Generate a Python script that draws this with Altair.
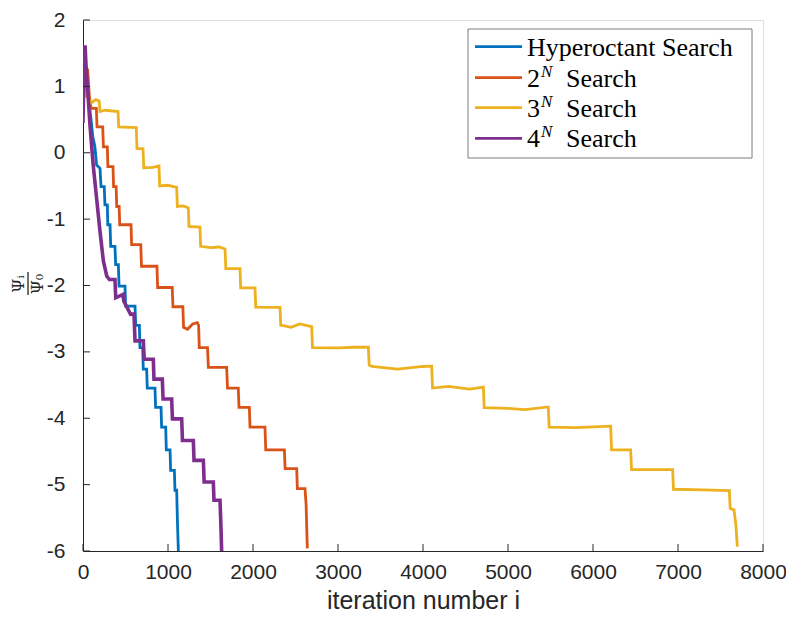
import altair as alt
import pandas as pd

# ---------------- data ----------------
hyper_x = [0, 20, 50, 90, 115, 140, 160, 200, 212, 250, 258, 286, 292, 318, 326, 376, 384, 416, 424, 494, 502, 612, 620, 663, 670, 702, 709, 749, 756, 847, 854, 918, 925, 973, 980, 1024, 1031, 1075, 1082, 1102, 1112, 1122]
hyper_y = [0.9, 1.35, 1.0, 0.55, 0.25, 0.09, -0.185, -0.235, -0.51, -0.51, -0.785, -0.785, -1.085, -1.085, -1.41, -1.41, -1.685, -1.685, -2.01, -2.01, -2.31, -2.31, -2.6, -2.6, -2.935, -2.935, -3.26, -3.26, -3.545, -3.545, -3.835, -3.835, -4.135, -4.135, -4.475, -4.475, -4.785, -4.785, -5.085, -5.085, -5.6, -6.0]

s2_x = [0, 25, 55, 75, 95, 157, 165, 232, 240, 286, 293, 353, 360, 390, 397, 425, 432, 565, 572, 680, 688, 870, 878, 1050, 1058, 1175, 1183, 1230, 1290, 1345, 1360, 1368, 1465, 1475, 1690, 1700, 1827, 1835, 1957, 1965, 2141, 2150, 2369, 2378, 2514, 2522, 2612, 2625, 2632, 2639]
s2_y = [0.75, 1.3, 1.25, 0.85, 0.67, 0.67, 0.39, 0.39, 0.09, 0.09, -0.21, -0.21, -0.51, -0.51, -0.81, -0.81, -1.085, -1.085, -1.385, -1.385, -1.71, -1.71, -2.03, -2.03, -2.32, -2.32, -2.63, -2.66, -2.58, -2.56, -2.6, -2.935, -2.935, -3.235, -3.235, -3.545, -3.545, -3.835, -3.835, -4.135, -4.135, -4.475, -4.475, -4.76, -4.76, -5.06, -5.06, -5.3, -5.65, -5.96]

s3_x = [0, 40, 98, 150, 190, 200, 260, 412, 420, 627, 635, 706, 715, 820, 894, 902, 1000, 1102, 1110, 1180, 1239, 1247, 1376, 1384, 1500, 1600, 1671, 1680, 1847, 1855, 2024, 2032, 2200, 2318, 2326, 2450, 2550, 2690, 2700, 3000, 3200, 3357, 3367, 3400, 3700, 4000, 4102, 4112, 4300, 4550, 4710, 4720, 5000, 5200, 5474, 5484, 5800, 6000, 6208, 6218, 6443, 6453, 6937, 6947, 7300, 7604, 7614, 7659, 7680, 7698]
s3_y = [1.1, 0.85, 0.75, 0.8, 0.78, 0.62, 0.64, 0.62, 0.39, 0.38, 0.065, 0.06, -0.225, -0.22, -0.2, -0.5, -0.49, -0.52, -0.81, -0.8, -0.83, -1.11, -1.12, -1.41, -1.43, -1.42, -1.45, -1.745, -1.745, -2.035, -2.035, -2.325, -2.33, -2.33, -2.595, -2.63, -2.58, -2.62, -2.935, -2.94, -2.93, -2.93, -3.2, -3.22, -3.26, -3.22, -3.215, -3.545, -3.52, -3.56, -3.53, -3.84, -3.85, -3.87, -3.83, -4.135, -4.14, -4.13, -4.12, -4.475, -4.475, -4.775, -4.775, -5.07, -5.08, -5.09, -5.36, -5.38, -5.6, -5.935]

s4_x = [0, 12, 24, 40, 62, 82, 120, 160, 200, 240, 280, 310, 376, 385, 470, 480, 560, 600, 612, 710, 720, 827, 835, 933, 942, 1043, 1052, 1161, 1170, 1298, 1306, 1416, 1425, 1533, 1541, 1612, 1622, 1631]
s4_y = [0.45, 1.3, 1.62, 1.2, 0.815, 0.415, -0.185, -0.685, -1.185, -1.635, -1.86, -1.91, -1.91, -2.185, -2.135, -2.235, -2.435, -2.43, -2.835, -2.835, -3.11, -3.11, -3.41, -3.41, -3.71, -3.71, -4.01, -4.01, -4.335, -4.335, -4.635, -4.635, -4.96, -4.96, -5.235, -5.235, -5.6, -6.0]

series_names = ["Hyperoctant Search", "2", "3", "4"]
series_colors = ["#0072BD", "#D95319", "#EDB120", "#7E2F8E"]
series_widths = [2.8, 2.8, 2.8, 3.6]
series_data = [(hyper_x, hyper_y), (s2_x, s2_y), (s3_x, s3_y), (s4_x, s4_y)]

x_ticks = [0, 1000, 2000, 3000, 4000, 5000, 6000, 7000, 8000]
y_ticks = [-6, -5, -4, -3, -2, -1, 0, 1, 2]

W, H = 680, 531
AXC = "#262626"

xscale = alt.Scale(domain=[0, 8000], nice=False, zero=False)
yscale = alt.Scale(domain=[-6, 2], nice=False, zero=False)

layers = []
for (xs, ys), col, sw in zip(series_data, series_colors, series_widths):
    df = pd.DataFrame({"x": xs, "y": ys, "i": list(range(len(xs)))})
    layers.append(
        alt.Chart(df).mark_line(color=col, strokeWidth=sw, clip=True, strokeJoin="miter").encode(
            x=alt.X("x:Q", scale=xscale,
                    axis=alt.Axis(values=x_ticks, labelExpr="toString(datum.value)", ticks=False,
                                  grid=False, title="iteration number i",
                                  labelFontSize=21, labelFont="Liberation Sans", labelColor=AXC,
                                  labelPadding=10, titleFontSize=25, titleFont="Liberation Sans",
                                  titleFontWeight="normal", titleColor=AXC, titlePadding=6,
                                  domainColor=AXC, domainWidth=1, labelFlush=False)),
            y=alt.Y("y:Q", scale=yscale,
                    axis=alt.Axis(values=y_ticks, labelExpr="toString(datum.value)", ticks=False,
                                  grid=False, title=None,
                                  labelFontSize=21, labelFont="Liberation Sans", labelColor=AXC,
                                  labelPadding=18, domainColor=AXC, domainWidth=1, labelFlush=False)),
            order="i:Q",
        )
    )

# inward tick marks (MATLAB style)
xt = pd.DataFrame({"t": x_ticks})
yt = pd.DataFrame({"t": y_ticks})
layers.append(alt.Chart(xt).mark_rule(color=AXC, strokeWidth=1).encode(
    x=alt.X("t:Q", scale=xscale), y=alt.value(H), y2=alt.value(H - 7)))
layers.append(alt.Chart(yt).mark_rule(color=AXC, strokeWidth=1).encode(
    y=alt.Y("t:Q", scale=yscale), x=alt.value(0), x2=alt.value(7)))

# y-axis title as a rotated fraction  Ψi / Ψ0
one = pd.DataFrame({"a": [0]})
layers.append(alt.Chart(one).mark_text(text="Ψᵢ", angle=270, font="DejaVu Serif", fontSize=16,
                                       color=AXC, align="center", baseline="middle").encode(
    x=alt.value(-64), y=alt.value(264)))
layers.append(alt.Chart(one).mark_rule(color=AXC, strokeWidth=1.3).encode(
    x=alt.value(-55), y=alt.value(252), y2=alt.value(275)))
layers.append(alt.Chart(one).mark_text(text="Ψ₀", angle=270, font="DejaVu Serif", fontSize=16,
                                       color=AXC, align="center", baseline="middle").encode(
    x=alt.value(-45), y=alt.value(264)))

# legend (boxed, top right)
layers.append(alt.Chart(one).mark_rect(fill="white", stroke="#7a7a7a", strokeWidth=1).encode(
    x=alt.value(385), x2=alt.value(669), y=alt.value(9), y2=alt.value(138)))
row_y = [26.7, 57.7, 87.7, 118.3]
for name, col, ry in zip(series_names, series_colors, row_y):
    layers.append(alt.Chart(one).mark_rule(color=col, strokeWidth=2.8).encode(
        x=alt.value(392), x2=alt.value(439), y=alt.value(ry)))
    layers.append(alt.Chart(one).mark_text(text=name, font="Liberation Serif", fontSize=26,
                                           color="black", align="left", baseline="middle").encode(
        x=alt.value(444), y=alt.value(ry + 1)))
    if name != "Hyperoctant Search":
        layers.append(alt.Chart(one).mark_text(text="N", font="Liberation Serif", fontStyle="italic",
                                               fontSize=17, color="black", align="left",
                                               baseline="middle").encode(
            x=alt.value(458), y=alt.value(ry - 6)))
        layers.append(alt.Chart(one).mark_text(text="Search", font="Liberation Serif", fontSize=26,
                                               color="black", align="left", baseline="middle").encode(
            x=alt.value(483), y=alt.value(ry + 1)))

chart = alt.layer(*layers).properties(
    width=W, height=H,
    autosize=alt.AutoSizeParams(type="none"),
    padding={"left": 75, "top": 12, "right": 23, "bottom": 70},
).configure_view(stroke=None).configure(background="white")

chart.save("out.html", embed_options={"renderer": "svg", "actions": False})
